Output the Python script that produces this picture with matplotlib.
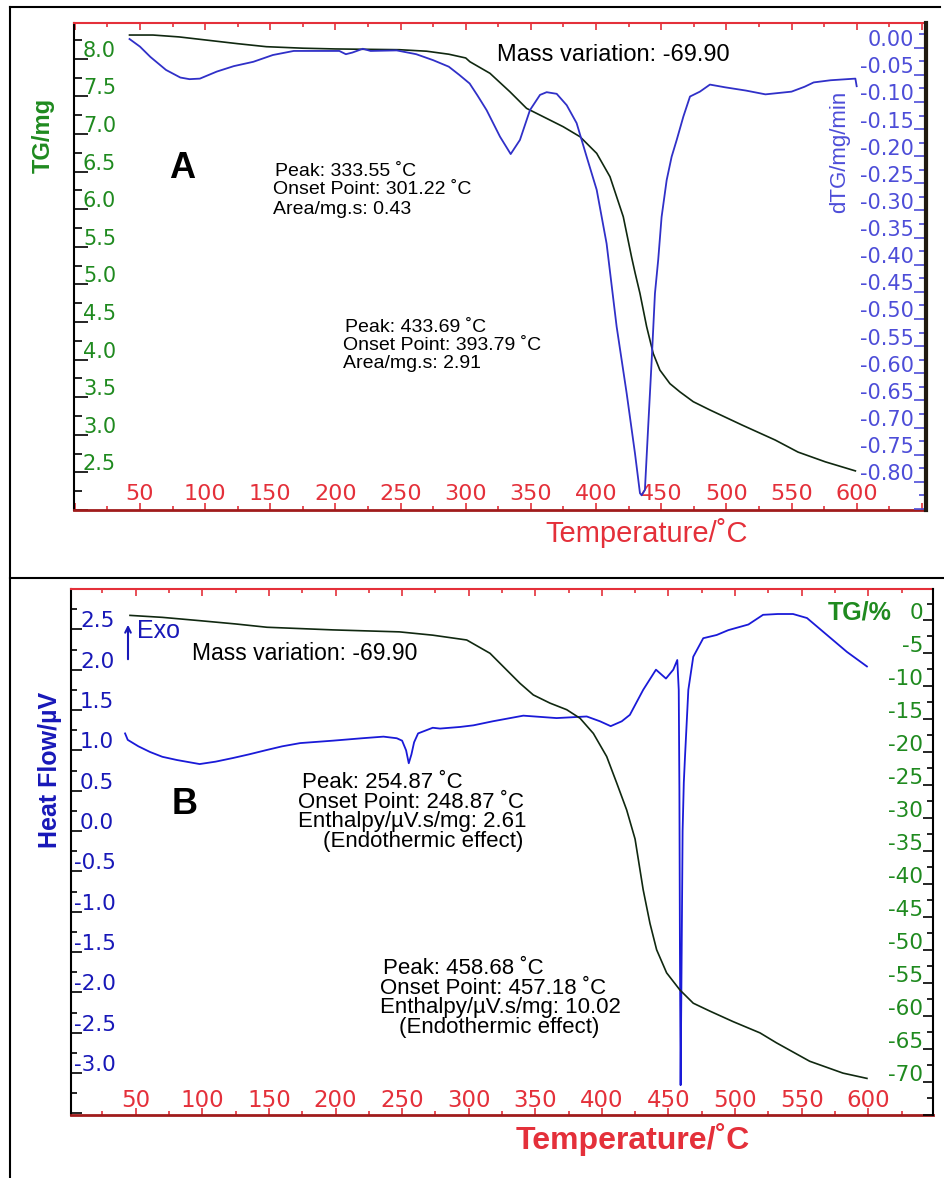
import numpy as np
import matplotlib
matplotlib.use('Agg')
import matplotlib.pyplot as plt
from matplotlib.transforms import offset_copy
from matplotlib.ticker import MultipleLocator
from matplotlib.lines import Line2D

plt.rcParams['font.family'] = ['Liberation Sans', 'DejaVu Sans']

# ---- panel A: TG (mg) and dTG (mg/min) vs temperature ----
temp_dtg = [42, 50, 58, 70, 81, 88, 96, 109, 122, 137, 152, 168, 188, 203, 208, 213,
            221, 227, 247, 262, 275, 287, 295, 303, 309, 316, 326.3, 334.5, 341.6,
            349.3, 357, 362.1, 369.8, 377.5, 385.1, 392.8, 400.5, 408.1, 415.8, 423.5,
            429.9, 433.7, 435, 437.5, 440, 442.7, 445.2, 447.7, 450.3, 454.2, 458,
            461.9, 467, 472.1, 479.7, 487.4, 499, 515, 530, 550, 560, 567, 580, 599, 600]
dtg = [0.016, 0.002, -0.017, -0.041, -0.055, -0.058, -0.057, -0.044, -0.034, -0.026,
       -0.0135, -0.006, -0.006, -0.006, -0.012, -0.009, -0.002, -0.006, -0.005, -0.012,
       -0.023, -0.035, -0.050, -0.066, -0.088, -0.115, -0.164, -0.196, -0.170, -0.115,
       -0.087, -0.082, -0.085, -0.106, -0.139, -0.201, -0.262, -0.361, -0.514, -0.637,
       -0.748, -0.821, -0.825, -0.815, -0.699, -0.576, -0.453, -0.391, -0.312, -0.244,
       -0.201, -0.170, -0.127, -0.090, -0.081, -0.068, -0.073, -0.079, -0.086, -0.081,
       -0.072, -0.064, -0.060, -0.057, -0.071]

temp_tg_a = [42, 60, 80, 100, 125, 147, 175, 200, 249, 270, 287, 300, 303.2, 318.6,
             333.9, 346.7, 359.5, 374.8, 387.7, 400.5, 410.7, 420.9, 427.3, 430, 433.7,
             438.8, 443.9, 449, 456.7, 464.4, 474.6, 487.4, 512, 537.5, 555, 576, 599]
tg_mg = [8.315, 8.315, 8.29, 8.25, 8.2, 8.16, 8.14, 8.13, 8.12, 8.10, 8.06, 8.01, 7.96,
         7.806, 7.561, 7.34, 7.229, 7.096, 6.963, 6.742, 6.431, 5.899, 5.36, 5.15, 4.88,
         4.44, 4.08, 3.86, 3.68, 3.57, 3.44, 3.33, 3.13, 2.93, 2.77, 2.64, 2.52]

# ---- panel B: heat flow (uV) and TG (%) vs temperature ----
temp_hf = [42, 44, 52, 60.7, 70, 81, 98, 110, 123, 135, 148.5, 160, 173.5, 198, 220,
           236, 246, 250, 253, 255, 257, 259, 262, 273, 278.5, 293.5, 303.5, 318, 341,
           366, 388.6, 398.6, 406.6, 414.9, 421, 431, 440.6, 448.1, 453.6, 456.6, 457.7,
           458.2, 458.6, 459.1, 459.9, 460.6, 461.5, 462.4, 464.9, 468.6, 476.1, 486.2,
           494.9, 510, 521, 532, 543.5, 554, 569, 584, 599]
heat_flow = [1.21, 1.13, 1.05, 0.98, 0.92, 0.88, 0.83, 0.86, 0.905, 0.95, 1.005, 1.05,
             1.09, 1.12, 1.15, 1.17, 1.15, 1.12, 1.0, 0.84, 0.95, 1.1, 1.21, 1.28, 1.27,
             1.29, 1.31, 1.36, 1.43, 1.40, 1.42, 1.36, 1.30, 1.36, 1.44, 1.75, 2.0, 1.89,
             2.0, 2.12, 1.75, 0.5, -1.5, -3.15, -1.5, 0.0, 0.6, 0.92, 1.75, 2.16, 2.39,
             2.43, 2.49, 2.56, 2.68, 2.69, 2.69, 2.64, 2.43, 2.22, 2.04]

temp_tg_b = [45.7, 70, 98, 125, 148.5, 198, 248, 273, 298.5, 316, 328.5, 338.5, 348.5,
             361, 373.6, 383.6, 393.6, 403.6, 411.1, 418.6, 424.9, 431, 436.1, 441.1,
             448.6, 458.6, 468.6, 481.1, 498.6, 518.7, 531, 556, 581, 599]
tg_pct = [0.7, 0.4, -0.1, -0.6, -1.1, -1.5, -1.8, -2.3, -3.03, -5.05, -7.58, -9.6,
          -11.36, -12.6, -13.6, -14.9, -17.2, -20.7, -24.7, -28.8, -33.2, -40.9, -46.0,
          -50.0, -53.5, -56.1, -58.1, -59.3, -60.9, -62.6, -64.1, -66.9, -68.7, -69.5]

# colours
RED = '#e4303a'
DARKRED = '#a01c1c'
GREEN = '#1f8a1f'
BLUE_LT = '#4d4dd8'
BLUE_DK = '#1818b8'
CURVE_TG = '#102810'
CURVE_DTG = '#3030c8'
CURVE_HF = '#1a1ad8'
TICKFONT = ['DejaVu Sans']

W, H = 945, 1178
fig = plt.figure(figsize=(W / 100, H / 100), dpi=100)


def px_rect(x0, y0, x1, y1):
    return [x0 / W, 1 - y1 / H, (x1 - x0) / W, (y1 - y0) / H]


def ftext(x, y, s, **kw):
    kw.setdefault('color', 'black')
    fig.text(x / W, 1 - y / H, s, **kw)


def style_x(ax, lo, hi, lab_dy, size):
    ax.set_xlim(lo, hi)
    ax.xaxis.set_major_locator(MultipleLocator(50))
    ax.xaxis.set_minor_locator(MultipleLocator(25))
    ax.tick_params(axis='x', which='both', direction='in', top=True, bottom=True,
                   labelbottom=False, color=RED, width=1.2)
    ax.tick_params(axis='x', which='major', length=5)
    ax.tick_params(axis='x', which='minor', length=3)
    tr = offset_copy(ax.get_xaxis_transform(), fig=fig, x=0, y=lab_dy, units='dots')
    for t in range(50, 601, 50):
        ax.text(t, 0, str(t), transform=tr, ha='center', va='baseline',
                color=RED, fontsize=size, family=TICKFONT)
    ax.spines['top'].set_color(RED)
    ax.spines['top'].set_linewidth(1.5)
    ax.spines['bottom'].set_color(DARKRED)
    ax.spines['bottom'].set_linewidth(2)


def style_y(ax, side, lim, major, minor, tcolor, lmaj, lmin):
    ax.set_ylim(*lim)
    ax.yaxis.set_major_locator(MultipleLocator(major))
    ax.yaxis.set_minor_locator(MultipleLocator(minor))
    ax.tick_params(axis='y', which='both', direction='in', left=(side == 'left'),
                   right=(side == 'right'), labelleft=False, labelright=False,
                   color=tcolor, width=1.2)
    ax.tick_params(axis='y', which='major', length=lmaj)
    ax.tick_params(axis='y', which='minor', length=lmin)


def ylabels(ax, vals, fmt, side, dx, dy, color, size, dx_neg=None):
    base = ax.get_yaxis_transform()
    for v in vals:
        v = round(float(v), 3) + 0.0
        s = fmt % v
        if side == 'left':
            off = dx if (v >= 0 or dx_neg is None) else dx_neg
            tr = offset_copy(base, fig=fig, x=off, y=dy, units='dots')
            ax.text(0, v, s, transform=tr, ha='left', va='baseline', color=color,
                    fontsize=size, family=TICKFONT)
        else:
            tr = offset_copy(base, fig=fig, x=-dx, y=dy, units='dots')
            ax.text(1, v, s, transform=tr, ha='right', va='baseline', color=color,
                    fontsize=size, family=TICKFONT)


# ================= panel A =================
axA = fig.add_axes(px_rect(74, 23, 926, 510))
axA2 = axA.twinx()
axA.plot(temp_tg_a, tg_mg, color=CURVE_TG, lw=1.2, zorder=3)
axA2.plot(temp_dtg, dtg, color=CURVE_DTG, lw=1.3)

style_x(axA, -0.6, 653.2, 10, 16)
style_y(axA, 'left', (2.0, 8.475), 0.5, 0.25, 'black', 10, 5.5)
style_y(axA2, 'right', (-0.852, 0.0455), 0.05, 0.025, BLUE_LT, 8.5, 5)
ylabels(axA, np.arange(2.5, 8.01, 0.5), '%.1f', 'left', 9, 2, GREEN, 15)
ylabels(axA2, np.arange(-0.80, 0.001, 0.05), '%.2f', 'right', 12, 1.5, BLUE_LT, 15)
for sp in ['top', 'bottom', 'left']:
    axA2.spines[sp].set_visible(False)
axA.spines['right'].set_visible(False)
axA.spines['left'].set_color('black')
axA.spines['left'].set_linewidth(1.5)
axA2.spines['right'].set_color('#201a10')
axA2.spines['right'].set_linewidth(3)

ftext(43, 135, 'TG/mg', color=GREEN, fontsize=17, fontweight='bold', rotation=90,
      ha='center', va='center')
ftext(840, 152, 'dTG/mg/min', color=BLUE_LT, fontsize=16, rotation=90,
      ha='center', va='center')
ftext(647, 533, 'Temperature/˚C', color=RED, fontsize=21, ha='center', va='center')
ftext(497, 55, 'Mass variation: -69.90', fontsize=17, ha='left', va='center')
ftext(182, 169, 'A', fontsize=26, fontweight='bold', ha='center', va='center')
ftext(275, 171, 'Peak: 333.55 ˚C', fontsize=14, ha='left', va='center')
ftext(273, 190, 'Onset Point: 301.22 ˚C', fontsize=14, ha='left', va='center')
ftext(273, 209, 'Area/mg.s: 0.43', fontsize=14, ha='left', va='center')
ftext(345, 328, 'Peak: 433.69 ˚C', fontsize=14, ha='left', va='center')
ftext(343, 345.5, 'Onset Point: 393.79 ˚C', fontsize=14, ha='left', va='center')
ftext(343, 363, 'Area/mg.s: 2.91', fontsize=14, ha='left', va='center')

# ================= panel B =================
axB = fig.add_axes(px_rect(71, 589, 933, 1115))
axB2 = axB.twinx()
axB.plot(temp_hf, heat_flow, color=CURVE_HF, lw=1.3)
axB2.plot(temp_tg_b, tg_pct, color=CURVE_TG, lw=1.2)

style_x(axB, 1.4, 648.6, 8, 16.5)
style_y(axB, 'left', (-3.52, 3.0), 0.5, 0.25, 'black', 8, 4)
style_y(axB2, 'right', (-75.05, 4.7), 5, 2.5, 'black', 7, 4)
ylabels(axB, np.arange(-3.0, 2.51, 0.5), '%.1f', 'left', 9, 2, BLUE_DK, 15.5, dx_neg=3)
ylabels(axB2, np.arange(-70, 1, 5), '%d', 'right', 10, 1, GREEN, 15.5)
for sp in ['top', 'bottom', 'left']:
    axB2.spines[sp].set_visible(False)
axB.spines['right'].set_visible(False)
axB.spines['left'].set_linewidth(1.5)
axB2.spines['right'].set_linewidth(1.5)

ftext(50, 770, 'Heat Flow/µV', color=BLUE_DK, fontsize=18, fontweight='bold',
      rotation=90, ha='center', va='center')
ftext(860, 613, 'TG/%', color=GREEN, fontsize=18, fontweight='bold',
      ha='center', va='center')
ftext(633, 1140, 'Temperature/˚C', color=RED, fontsize=23, fontweight='bold',
      ha='center', va='center')
axB.annotate('', xy=(128 / W, 1 - 622 / H), xytext=(128 / W, 1 - 662 / H),
             xycoords='figure fraction', textcoords='figure fraction',
             arrowprops=dict(arrowstyle='->', color=BLUE_DK, lw=1.5))
ftext(137, 631, 'Exo', color=BLUE_DK, fontsize=18, ha='left', va='center')
ftext(192, 654, 'Mass variation: -69.90', fontsize=16.5, ha='left', va='center')
ftext(185, 805, 'B', fontsize=26, fontweight='bold', ha='center', va='center')
ftext(302, 783, 'Peak: 254.87 ˚C', fontsize=16, ha='left', va='center')
ftext(298, 803, 'Onset Point: 248.87 ˚C', fontsize=16, ha='left', va='center')
ftext(298, 822, 'Enthalpy/µV.s/mg: 2.61', fontsize=16, ha='left', va='center')
ftext(323, 842, '(Endothermic effect)', fontsize=16, ha='left', va='center')
ftext(383, 968, 'Peak: 458.68 ˚C', fontsize=16, ha='left', va='center')
ftext(380, 988, 'Onset Point: 457.18 ˚C', fontsize=16, ha='left', va='center')
ftext(380, 1008, 'Enthalpy/µV.s/mg: 10.02', fontsize=16, ha='left', va='center')
ftext(399, 1028, '(Endothermic effect)', fontsize=16, ha='left', va='center')

# outer frame lines of the figure table
for (x0, y0, x1, y1) in [(10, 7, 10, 1178), (10, 7, 940, 7), (10, 578, 945, 578)]:
    fig.add_artist(Line2D([x0 / W, x1 / W], [1 - y0 / H, 1 - y1 / H],
                          transform=fig.transFigure, color='black', lw=1.5))

fig.savefig('out.png', dpi=100)
